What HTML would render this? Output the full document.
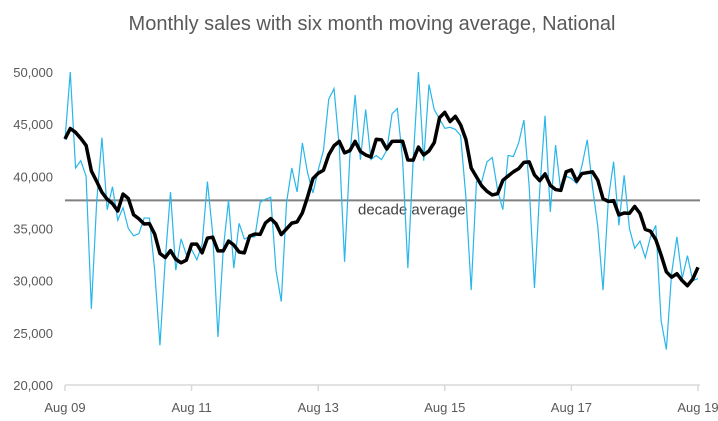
<!DOCTYPE html>
<html><head><meta charset="utf-8"><style>
body{margin:0;background:#fff;}
svg{display:block;font-family:"Liberation Sans",sans-serif;}
</style></head><body>
<svg id="chart" width="718" height="421">
<text x="372" y="30" text-anchor="middle" font-size="20" fill="#595959">Monthly sales with six month moving average, National</text>
<g id="yaxis"></g>
<g id="xaxis"></g>
<g id="plot"></g>
</svg>
<script>
const yTicks=[20000,25000,30000,35000,40000,45000,50000];
const xTickLabels=["Aug 09","Aug 11","Aug 13","Aug 15","Aug 17","Aug 19"];
const decadeAverage=37700;
const priorMonths=[44,43,45,44,42];
const monthlySales=[43.5,50,40.8,41.5,40,27.3,37.5,43.7,36.8,39,35.8,37,35,34.3,34.5,36,36,31,23.8,32,38.5,31,34,32.5,33,32,33.5,39.5,34.5,24.6,33,37.7,31.2,35.5,34,34.2,34.2,37.5,37.8,38,31,28,37.5,40.8,38.5,43.2,40.3,38.4,40.6,42.5,47.4,48.4,42.8,31.8,41.9,47.8,41.6,46.4,41.6,42,41.6,42.5,46,46.5,41.6,31.2,41.5,50,41.5,48.8,46.4,45.5,44.6,44.7,44.5,43.9,38,29.1,39.5,39.5,41.4,41.8,38.7,36.8,42,41.9,43.2,45.4,39,29.3,38.7,45.8,36.6,43,38.5,40,39.8,39.3,41,43.5,39,35.2,29.1,37.8,41.4,35.3,40.1,35,33.1,33.8,32.2,34.2,35.3,26.2,23.4,30.7,34.2,30.2,32.4,30,30.2];
const NS="http://www.w3.org/2000/svg";
const x0=65,x1=698,yTop=72,yBot=385,vMin=20000,vMax=50000;
const xs=i=>x0+i*(x1-x0)/120;
const ys=v=>yBot-(v-vMin)/(vMax-vMin)*(yBot-yTop);
function mk(tag,attrs,parent,text){const e=document.createElementNS(NS,tag);for(const k in attrs)e.setAttribute(k,attrs[k]);if(text!==undefined)e.textContent=text;parent.appendChild(e);return e;}
const ya=document.getElementById('yaxis'),xa=document.getElementById('xaxis'),pl=document.getElementById('plot');
yTicks.forEach(v=>{const t=mk('text',{x:53,y:ys(v)+5,'text-anchor':'end','font-size':13,fill:'#595959'},ya,v.toLocaleString('en-US'));

});
const ax=mk('line',{x1:x0,x2:700,y1:yBot,y2:yBot,stroke:'#d9d9d9','stroke-width':1.5},xa);


xTickLabels.forEach((l,k)=>{const x=xs(k*24);
const tk=mk('line',{x1:x,x2:x,y1:yBot,y2:yBot+6,stroke:'#d9d9d9','stroke-width':1.5},xa);


const t=mk('text',{x:x,y:412,'text-anchor':'middle','font-size':13,fill:'#595959'},xa,l);

});
const da=mk('line',{x1:x0,x2:700,y1:ys(decadeAverage),y2:ys(decadeAverage),stroke:'#808080','stroke-width':2},pl);


const dl=mk('text',{x:358,y:ys(decadeAverage)+14,'font-size':15,fill:'#404040'},pl,'decade average');


const raw=mk('polyline',{points:monthlySales.map((v,i)=>xs(i)+','+ys(v*1000)).join(' '),fill:'none',stroke:'#29b6ea','stroke-width':1.2},pl);


const all=priorMonths.concat(monthlySales);
const ma=monthlySales.map((v,i)=>{let s=0;for(let k=0;k<6;k++)s+=all[i+k];return s/6;});
const mal=mk('polyline',{points:ma.map((v,i)=>xs(i)+','+ys(v*1000)).join(' '),fill:'none',stroke:'#000','stroke-width':3.5,'stroke-linejoin':'round'},pl);


</script>
</body></html>
